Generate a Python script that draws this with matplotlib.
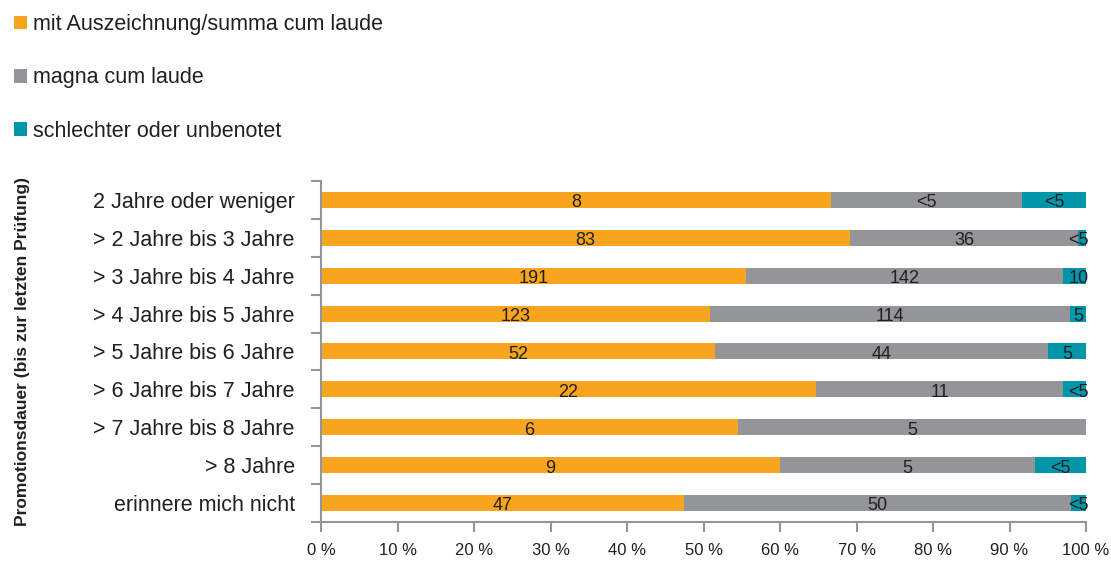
import matplotlib.pyplot as plt
import numpy as np

plt.rcParams['font.family'] = ['Liberation Sans Narrow', 'Liberation Sans', 'DejaVu Sans']

categories = ['2 Jahre oder weniger', '> 2 Jahre bis 3 Jahre', '> 3 Jahre bis 4 Jahre',
              '> 4 Jahre bis 5 Jahre', '> 5 Jahre bis 6 Jahre', '> 6 Jahre bis 7 Jahre',
              '> 7 Jahre bis 8 Jahre', '> 8 Jahre', 'erinnere mich nicht']
series = ['mit Auszeichnung/summa cum laude', 'magna cum laude', 'schlechter oder unbenotet']
colors = ['#F7A51E', '#939598', '#0096AA']

# shares in percent
summa = [66.7, 69.2, 55.6, 50.8, 51.5, 64.7, 54.5, 60.0, 47.5]
magna = [24.9, 29.8, 41.4, 47.1, 43.5, 32.3, 45.5, 33.3, 50.5]
schlechter = [8.4, 1.0, 3.0, 2.1, 5.0, 3.0, 0.0, 6.7, 2.0]

# counts shown as bar labels
summa_lbl = ['8', '83', '191', '123', '52', '22', '6', '9', '47']
magna_lbl = ['<5', '36', '142', '114', '44', '11', '5', '5', '50']
schlechter_lbl = ['<5', '<5', '10', '5', '5', '<5', '', '<5', '<5']

fig = plt.figure(figsize=(11.11, 5.63), dpi=100)
ax = fig.add_axes([0.289, 0.073, 0.6885, 0.6055])

y = np.arange(len(categories))
left = np.zeros(len(categories))
for vals, lbls, col, name in zip([summa, magna, schlechter],
                                 [summa_lbl, magna_lbl, schlechter_lbl], colors, series):
    vals = np.array(vals)
    ax.barh(y, vals, left=left, height=0.42, color=col, label=name)
    for yi, l, v, t in zip(y, left, vals, lbls):
        if t:
            x = l + v / 2
            if v < 4:
                x = 100 - 1.0
            ax.text(x, yi + 0.08, t, ha='center', va='center', fontsize=13, color='#231F20')
    left += vals

ax.set_xlim(0, 100)
ax.set_ylim(len(categories) - 0.5, -0.5)
ax.set_xticks(np.arange(0, 101, 10))
ax.set_xticklabels([f'{v} %' for v in range(0, 101, 10)], fontsize=12, color='#231F20')
ax.set_yticks(y)
ax.set_yticklabels(categories, fontsize=15.5, color='#231F20')
ax.set_yticks(np.arange(-0.5, len(categories), 1), minor=True)
ax.tick_params(axis='y', which='major', length=0, pad=19)
ax.tick_params(axis='y', which='minor', length=7, color='#939598', width=1.5)
ax.tick_params(axis='x', length=7, color='#939598', width=1.5, pad=8)
for s in ['top', 'right']:
    ax.spines[s].set_visible(False)
for s in ['left', 'bottom']:
    ax.spines[s].set_color('#939598')
    ax.spines[s].set_linewidth(1.5)

ax.set_ylabel('Promotionsdauer (bis zur letzten Prüfung)', fontsize=12.5,
              fontweight='bold', color='#231F20')
ax.yaxis.set_label_coords(-0.381, 0.5)

handles, labels = ax.get_legend_handles_labels()
fig.legend(handles, labels, loc='upper left', bbox_to_anchor=(0.0, 1.0), frameon=False,
           fontsize=15.5, handlelength=0.6, handleheight=0.6, handletextpad=0.3,
           labelspacing=1.5, borderaxespad=0.25, labelcolor='#231F20')

fig.savefig('out.png', dpi=100)
